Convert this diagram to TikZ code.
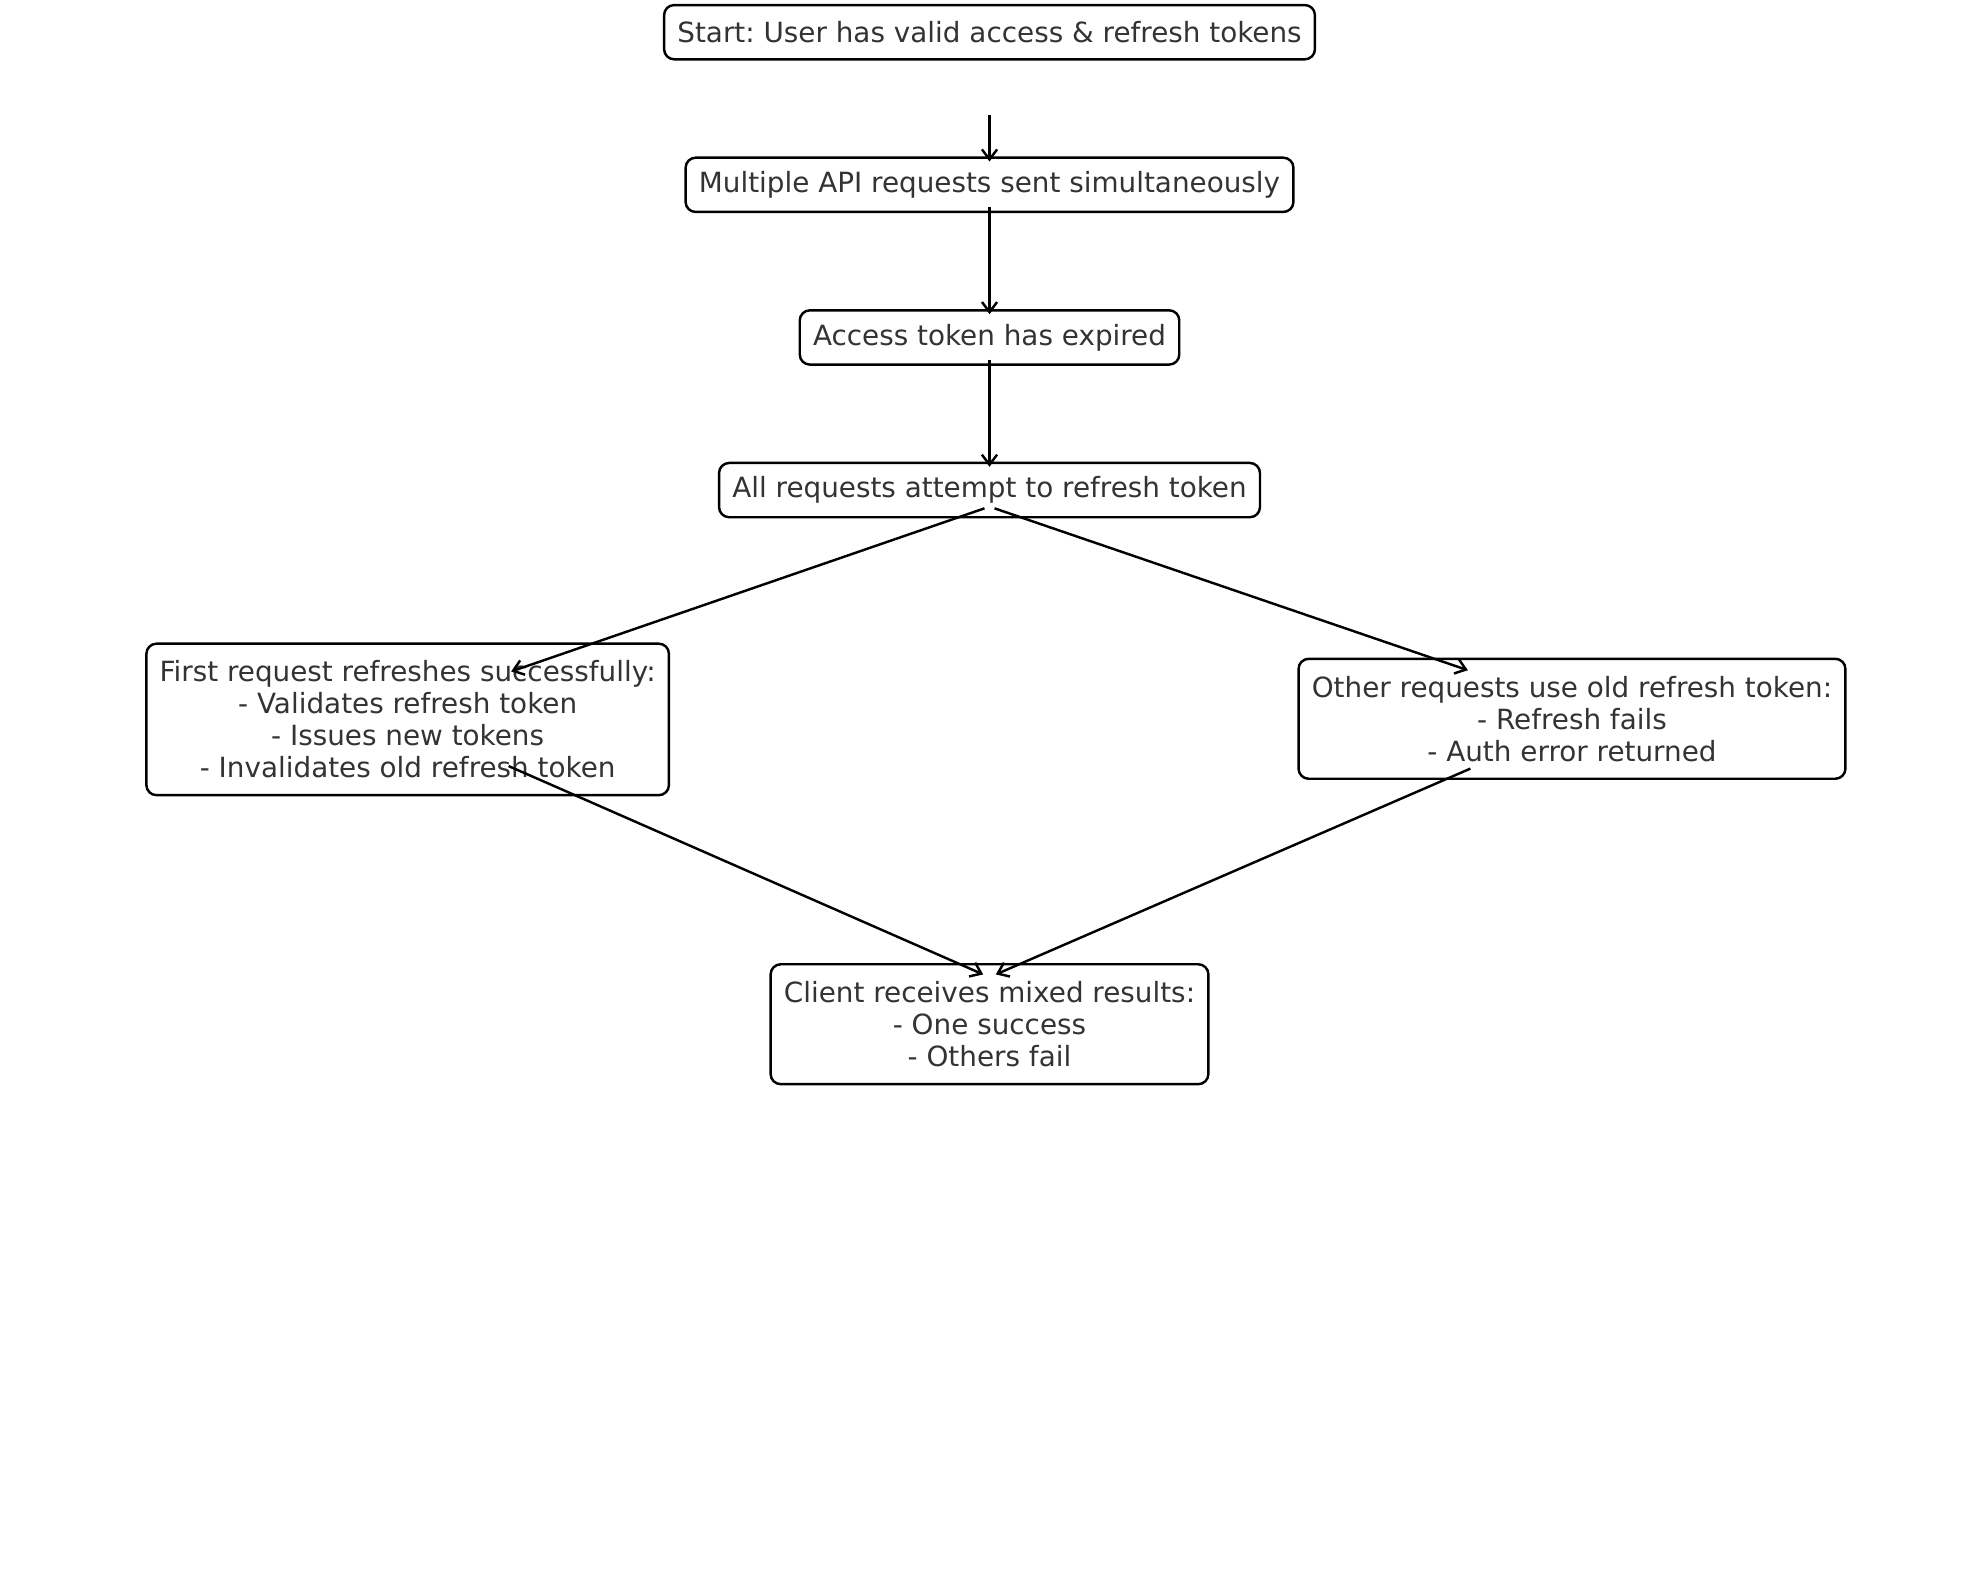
\documentclass[tikz,border=0pt]{standalone}
\usepackage{fontspec}
\setmainfont{DejaVu Sans}
\usetikzlibrary{calc, positioning, arrows.meta}
\frenchspacing

\begin{document}
\begin{tikzpicture}[
    node distance=1.52cm,
    every node/.style={draw, rectangle, rounded corners=0.16cm, line width=1.1pt, text=black!80, font=\fontsize{12.55}{14.4}\selectfont, align=center, inner xsep=0.21cm, inner ysep=3pt, minimum height=0.86cm},
    tall/.style={minimum height=1.9cm},
    taller/.style={minimum height=2.4cm},
    arrow/.style={-{Straight Barb[length=0.16cm, width=0.24cm]}, line width=1.1pt}
]
\useasboundingbox (0,0) rectangle (31.36,-25.02);

\node (start) at (15.68,-0.51) {Start: User has valid access \& refresh tokens};
\node[below=of start] (multi) {Multiple API requests sent simultaneously};
\node[below=of multi] (expired) {Access token has expired};
\node[below=of expired] (attempt) {All requests attempt to refresh token};
\node[taller] (first) at (6.46,-11.40) {First request refreshes successfully:\\- Validates refresh token\\- Issues new tokens\\- Invalidates old refresh token};
\node[tall] (others) at (24.91,-11.39) {Other requests use old refresh token:\\- Refresh fails\\- Auth error returned};
\node[tall] (client) at (15.68,-16.23) {Client receives mixed results:\\- One success\\- Others fail};

\draw[arrow] ($(start.south)+(0,-0.86)$) -- ($(multi.north)+(0,-0.08)$);
\draw[arrow] ($(multi.south)+(0,0.10)$) -- ($(expired.north)+(0,-0.08)$);
\draw[arrow] ($(expired.south)+(0,0.10)$) -- ($(attempt.north)+(0,-0.08)$);
\draw[arrow] ($(attempt.south)+(-0.08,0.16)$) -- ($(first.north)+(1.64,-0.46)$);
\draw[arrow] ($(attempt.south)+(0.08,0.16)$) -- ($(others.north)+(-1.65,-0.20)$);
\draw[arrow] ($(first.south)+(1.60,0.48)$) -- ($(client.north)+(-0.10,-0.18)$);
\draw[arrow] ($(others.south)+(-1.61,0.18)$) -- ($(client.north)+(0.10,-0.18)$);

\end{tikzpicture}
\end{document}
